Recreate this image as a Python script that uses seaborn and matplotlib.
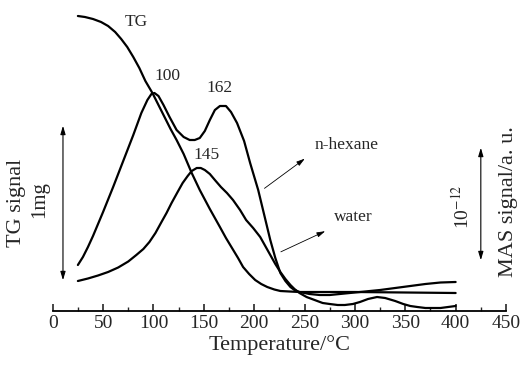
import pandas as pd
import seaborn as sns
from matplotlib import pyplot as plt

# temperature (°C) and signal (arbitrary units)
tg_temp = [25, 32, 40, 48, 55, 62, 68, 74, 80, 86, 92, 99, 105, 111, 117, 123, 130, 138, 146, 156, 166, 172, 178,
           184, 189, 195, 201, 207, 213, 220, 226, 235, 245, 300, 350, 400]
tg_signal = [295, 294, 292, 289, 285, 279, 272, 264, 254, 243, 230, 218, 206, 194, 182, 171, 157, 138, 121, 102, 84,
             73, 63, 53, 44, 37, 31, 27, 24, 21.5, 20, 19.5, 19, 19, 18.5, 18]

hexane_temp = [25, 30, 35, 40, 50, 60, 70, 80, 88, 94, 98, 101, 105, 110, 116, 123, 130, 136, 141, 146, 151, 156,
               161, 166, 172, 177, 183, 190, 196, 204, 210, 216, 221, 226, 231, 236, 240, 245, 250, 255, 265, 275,
               285, 295, 310, 325, 340, 355, 370, 385, 400]
hexane_signal = [46, 54, 64, 75, 99, 124, 150, 176, 198, 211, 217, 218, 215, 206, 194, 181, 174, 171, 171, 173, 180,
                 191, 201, 205, 205, 199, 188, 170, 148, 121, 96, 71, 53, 38, 30, 24, 21, 19, 18, 17, 16, 16,
                 17, 18, 19.5, 21, 23, 25, 27, 28.5, 29]

water_temp = [25, 35, 45, 55, 65, 75, 83, 90, 96, 102, 108, 113, 118, 124, 129, 134, 138, 143, 147, 151, 156, 161,
              167, 173, 179, 186, 192, 199, 206, 211, 216, 221, 226, 231, 236, 240, 245, 252, 260, 268, 275, 283,
              290, 298, 305, 313, 322, 330, 340, 348, 355, 362, 370, 385, 400]
water_signal = [30, 32.5, 35.5, 39, 43.5, 49.5, 56, 62, 69, 78, 89, 98, 108, 119, 128, 135, 140, 143, 143, 141, 137,
                131, 124, 118, 111, 101, 91, 83, 74, 65, 56, 47, 39, 32, 26, 22, 18, 14, 11, 8, 7, 6,
                6, 7, 9, 12, 14, 13, 10, 7, 5, 4, 3, 3, 5]

peak_labels = ["100", "162", "145"]
x_ticks = list(range(0, 451, 50))

sns.set_style("white")
plt.rcParams['font.family'] = ['Liberation Serif', 'DejaVu Serif']
plt.rcParams['mathtext.fontset'] = 'stix'

fig = plt.figure(figsize=(5.28, 3.71), dpi=100)
ax = fig.add_axes([52.7 / 528, 60 / 371, 453.3 / 528, 311 / 371])

curves = [(tg_temp, tg_signal), (hexane_temp, hexane_signal), (water_temp, water_signal)]
for temp, signal in curves:
    df = pd.DataFrame({"T": temp, "s": signal})
    sns.lineplot(data=df, x="T", y="s", sort=False, estimator=None, color="black", linewidth=1.6, ax=ax)

ax.set_xlim(0, 450)
ax.set_ylim(0, 311)
ax.set_xticks(x_ticks)
ax.set_xticks(range(25, 450, 50), minor=True)
ax.set_yticks([])
for side in ["left", "right", "top"]:
    ax.spines[side].set_visible(False)
ax.spines["bottom"].set_linewidth(1.3)
ax.spines["bottom"].set_color("black")
ax.tick_params(axis="x", which="major", direction="in", length=5, width=1.2, labelsize=14, pad=3, bottom=True)
ax.tick_params(axis="x", which="minor", direction="in", length=3, width=1.0, bottom=True)
ax.set_xlabel("Temperature/°C", fontsize=16, labelpad=2)
ax.set_ylabel("")

# annotations
ax.text(82.7, 289, "TG", fontsize=12.5, ha="center", va="center")
ax.text(113.5, 235, peak_labels[0], fontsize=12.5, ha="center", va="center")
ax.text(166, 223, peak_labels[1], fontsize=12.5, ha="center", va="center")
ax.text(153, 156, peak_labels[2], fontsize=12.5, ha="center", va="center")
ax.text(292, 166, "n-hexane", fontsize=12.5, ha="center", va="center")
ax.text(298, 94, "water", fontsize=12.5, ha="center", va="center")

thin = dict(arrowstyle="-|>,head_length=0.5,head_width=0.15", color="black", lw=0.6)
ax.annotate("", xy=(252.5, 154), xytext=(208, 121), arrowprops=thin)
ax.annotate("", xy=(273, 81), xytext=(224, 58), arrowprops=thin)

both = dict(arrowstyle="<|-|>,head_length=0.5,head_width=0.15", color="black", lw=0.8)
ax.annotate("", xy=(10.2, 188), xytext=(10.2, 28), arrowprops=both, annotation_clip=False)
ax.annotate("", xy=(425, 166), xytext=(425, 48), arrowprops=both, annotation_clip=False)

fig.text(17 / 528, 1 - 203 / 371, "TG signal", rotation=90, fontsize=16, ha="center", va="center")
fig.text(40 / 528, 1 - 200 / 371, "1mg", rotation=90, fontsize=15, ha="center", va="center")
fig.text(462 / 528, 1 - 207 / 371, r"10$^{-12}$", rotation=90, fontsize=14, ha="center", va="center")
fig.text(508 / 528, 1 - 202 / 371, "MAS signal/a. u.", rotation=90, fontsize=16, ha="center", va="center")

fig.savefig("out.png", dpi=100)
